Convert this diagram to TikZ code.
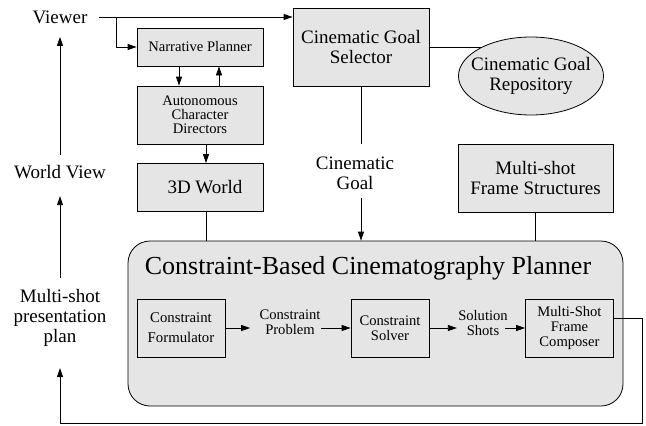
\documentclass[tikz,border=0pt]{standalone}
\usepackage{fontspec}
\setmainfont{Liberation Serif}
\usetikzlibrary{positioning}
\usetikzlibrary{arrows.meta}
\usetikzlibrary{shapes.geometric}
\definecolor{boxgray}{gray}{0.9}
\tikzstyle{blk}=[draw,fill=boxgray,inner sep=0pt,align=center]
\tikzstyle{big}=[font=\fontsize{19}{20}\selectfont]
\tikzstyle{small}=[font=\fontsize{14.6}{15}\selectfont]
\tikzstyle{lbl}=[inner sep=0pt,align=center]
\tikzstyle{arr}=[-{Triangle[length=9pt,width=6pt]}]

\begin{document}
\begin{tikzpicture}[x=1pt,y=-1pt,line width=0.8pt]
\useasboundingbox (0,0) rectangle (646,426);
\node[lbl,big] (viewer) at (60,17) {Viewer};
\node[lbl,big] (wview) at (60,172) {World View};
\node[lbl,big] (plan) at (60,318) {Multi-shot\\presentation\\plan};

\node[blk,small,minimum width=126pt,minimum height=38pt] (np) at (200,47) {Narrative Planner};
\node[blk,font=\fontsize{14.6}{14}\selectfont,minimum width=126pt,minimum height=58pt] (acd) at (200,115) {Autonomous\\Character\\Directors};
\node[blk,big,minimum width=126pt,minimum height=48pt] (world) at (200,187.5) {\hspace*{10pt}3D World};
\node[blk,big,minimum width=136pt,minimum height=78pt] (sel) at (361,47) {Cinematic Goal\\Selector};
\node[blk,big,ellipse,inner xsep=-10pt,minimum width=145pt,minimum height=78pt] (repo) at (531,76) {Cinematic Goal\\Repository};
\node[blk,big,minimum width=155pt,minimum height=68pt] (mfs) at (535.5,178) {Multi-shot\\Frame Structures};
\node[lbl,big] (goal) at (355,173) {Cinematic\\Goal};

\node[blk,rounded corners=22pt,minimum width=495pt,minimum height=165pt] (cbcp) at (375.5,323.5) {};
\node[lbl,font=\fontsize{26}{28}\selectfont] (title) at (368,268) {Constraint-Based Cinematography Planner};
\node[blk,font=\fontsize{14.8}{20}\selectfont,minimum width=88pt,minimum height=58pt] (form) at (181,328) {Constraint\\Formulator};
\node[lbl,small] (prob) at (290,322) {Constraint\\Problem};
\node[blk,small,minimum width=78pt,minimum height=58pt] (solv) at (390,328) {Constraint\\Solver};
\node[lbl,small] (shots) at (483,323) {Solution\\Shots};
\node[blk,small,minimum width=88pt,minimum height=58pt] (comp) at (569.5,328) {Multi-Shot\\Frame\\Composer};
\coordinate (loop) at (642,423);

\draw[arr,shorten <=11pt] (viewer.east) -- (viewer.east -| sel.west);
\draw[arr] ([xshift=-20pt]np.west |- viewer.east) |- (np.west);
\draw[arr] ([xshift=-21pt]np.south) -- ([xshift=-21pt]acd.north);
\draw[arr] ([xshift=19pt]acd.north) -- ([xshift=19pt]np.south);
\draw[arr] ([xshift=6pt]acd.south) -- ([xshift=6pt]world.north);
\draw ([xshift=6pt]world.south) -- ([xshift=6pt]world.south |- cbcp.north);
\draw (sel.east) -- (sel.east -| repo.150);
\draw[shorten >=12pt] (sel.south) -- (sel.south |- goal.north);
\draw[arr,shorten <=8pt] (goal.south -| sel.south) -- (sel.south |- cbcp.north);
\draw (mfs.south) -- (mfs.south |- cbcp.north);

\draw[arr,shorten >=9pt] (form.east) -- (form.east -| prob.west);
\draw[arr] (prob.east |- solv.west) -- (solv.west);
\draw[arr,shorten >=1pt] (solv.east) -- (solv.east -| shots.west);
\draw[arr,shorten <=-3pt] (shots.east |- comp.west) -- (comp.west);

\draw[arr,shorten >=21pt] ([yshift=10pt]comp.east) -| (loop) -| (plan.south);
\draw[arr,shorten <=11pt,shorten >=17pt] (plan.north) -- (wview.south);
\draw[arr,shorten <=10pt,shorten >=13pt] (wview.north) -- (viewer.south);
\end{tikzpicture}
\end{document}
